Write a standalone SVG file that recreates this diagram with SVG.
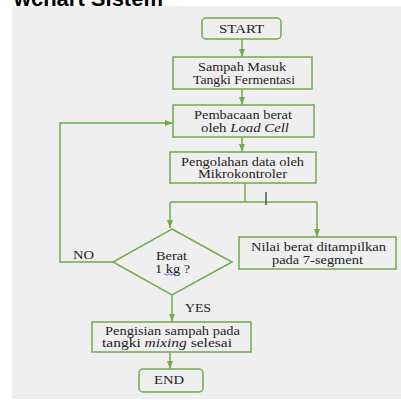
<svg xmlns="http://www.w3.org/2000/svg" width="401" height="400" viewBox="0 0 401 400">
<defs>
<marker id="ah" viewBox="0 0 8 6" refX="8" refY="3" markerWidth="8" markerHeight="6" markerUnits="userSpaceOnUse" orient="auto">
<path d="M0,0 L8,3 L0,6 Z" fill="#70ad47"/>
</marker>
</defs>
<style>
.bx{fill:none;stroke:#70ad47;stroke-width:1.5}
.ln{fill:none;stroke:#70ad47;stroke-width:1.5}
.t{font-family:"Liberation Serif","Times New Roman",serif;font-size:11.5px;fill:#222;text-anchor:middle}
.h{font-family:"Liberation Sans",Arial,sans-serif;font-size:22px;font-weight:bold;fill:#000;text-anchor:end}
</style>
<rect width="401" height="400" fill="#ffffff"/>
<text class="h" x="163" y="5.5">wchart Sistem</text>
<rect x="12" y="6" width="389" height="393" fill="#efefef"/>
<g id="connectors">
<line class="ln" x1="242" y1="39" x2="242" y2="57" marker-end="url(#ah)"/>
<line class="ln" x1="242" y1="89" x2="242" y2="105" marker-end="url(#ah)"/>
<line class="ln" x1="242" y1="137" x2="242" y2="152" marker-end="url(#ah)"/>
<polyline class="ln" points="245,183 245,202"/>
<polyline class="ln" points="170,202 317,202"/>
<polyline class="ln" points="170,202 170,228" marker-end="url(#ah)"/>
<polyline class="ln" points="317,202 317,237" marker-end="url(#ah)"/>
<polyline class="ln" points="113,262 60,262 60,123 173,123" marker-end="url(#ah)"/>
<line class="ln" x1="172" y1="295" x2="172" y2="322" marker-end="url(#ah)"/>
<line class="ln" x1="170" y1="352" x2="170" y2="369" marker-end="url(#ah)"/>
<line x1="266" y1="192" x2="266" y2="205" stroke="#555" stroke-width="1.5"/>
<text class="t" x="83.5" y="259" textLength="21" lengthAdjust="spacingAndGlyphs">NO</text>
<text class="t" x="198" y="312" textLength="26" lengthAdjust="spacingAndGlyphs">YES</text>
</g>
<g id="start">
<rect class="bx" x="202" y="18" width="79" height="21" rx="4"/>
<text class="t" x="241.5" y="33" textLength="45" lengthAdjust="spacingAndGlyphs">START</text>
</g>
<g id="sampah-masuk">
<rect class="bx" x="173" y="57" width="139" height="32"/>
<text class="t" x="242" y="71" textLength="88" lengthAdjust="spacingAndGlyphs">Sampah Masuk</text>
<text class="t" x="244" y="84" textLength="102" lengthAdjust="spacingAndGlyphs">Tangki Fermentasi</text>
</g>
<g id="pembacaan">
<rect class="bx" x="173" y="105" width="141" height="32"/>
<text class="t" x="243" y="119" textLength="98" lengthAdjust="spacingAndGlyphs">Pembacaan berat</text>
<text class="t" x="245" y="131.5" textLength="88" lengthAdjust="spacingAndGlyphs">oleh <tspan font-style="italic">Load Cell</tspan></text>
</g>
<g id="pengolahan">
<rect class="bx" x="170" y="152" width="146" height="31"/>
<text class="t" x="242.5" y="166" textLength="123" lengthAdjust="spacingAndGlyphs">Pengolahan data oleh</text>
<text class="t" x="242.5" y="178" textLength="89" lengthAdjust="spacingAndGlyphs">Mikrokontroler</text>
</g>
<g id="nilai">
<rect class="bx" x="239" y="237" width="157" height="32"/>
<text class="t" x="318.5" y="251" textLength="135" lengthAdjust="spacingAndGlyphs">Nilai berat ditampilkan</text>
<text class="t" x="317.5" y="263.5" textLength="91" lengthAdjust="spacingAndGlyphs">pada 7-segment</text>
</g>
<g id="decision">
<polygon class="bx" points="172,229 232,262 172,295 113,262"/>
<text class="t" x="171.5" y="260" textLength="31" lengthAdjust="spacingAndGlyphs">Berat</text>
<text class="t" x="172.5" y="272.5" textLength="35" lengthAdjust="spacingAndGlyphs">1 kg ?</text>
<path d="M164,274.5 q1,-1.5 2,0 t2,0 t2,0 t2,0 t2,0 t2,0" fill="none" stroke="#2a3cf0" stroke-width="0.8"/>
</g>
<g id="pengisian">
<rect class="bx" x="92" y="322" width="159" height="30"/>
<text class="t" x="172.5" y="335" textLength="135" lengthAdjust="spacingAndGlyphs">Pengisian sampah pada</text>
<text class="t" x="167" y="347" textLength="130" lengthAdjust="spacingAndGlyphs">tangki <tspan font-style="italic">mixing</tspan> selesai</text>
</g>
<g id="end">
<rect class="bx" x="139" y="369" width="64" height="23" rx="4"/>
<text class="t" x="169" y="384" textLength="30" lengthAdjust="spacingAndGlyphs">END</text>
</g>
</svg>
